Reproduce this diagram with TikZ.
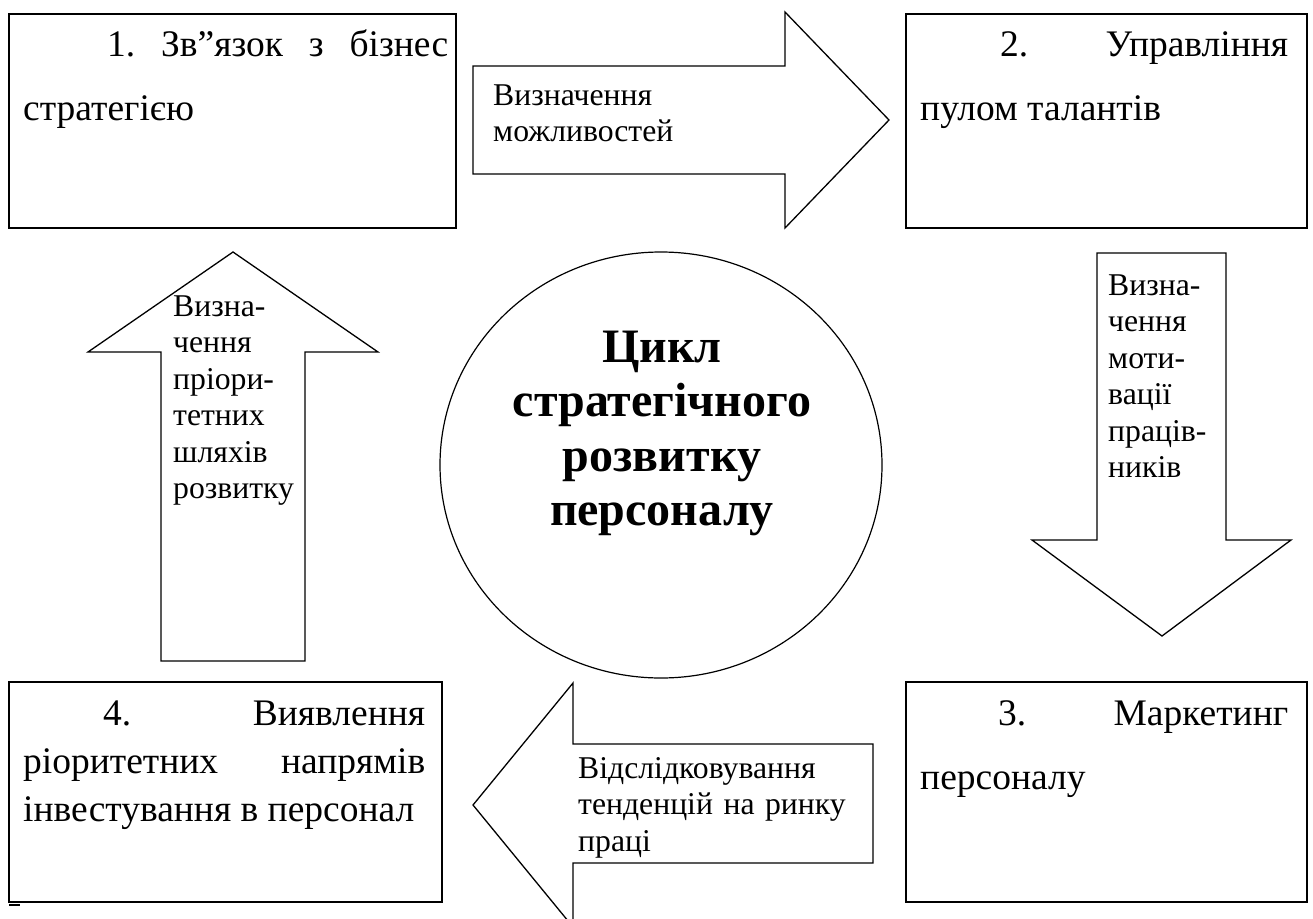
\documentclass[tikz,border=0pt]{standalone}
\usepackage{fontspec}
\setmainfont{Liberation Serif}
\usetikzlibrary{shapes.geometric}
\newcommand\bxf{\fontsize{37.5}{43}\selectfont}
\newcommand\arf{\fontsize{31.7}{36.5}\selectfont}
\newcommand\elf{\fontsize{48}{54.5}\selectfont\bfseries}
\tikzset{
  box/.style={draw, line width=2pt, inner sep=0pt},
  blk/.style={draw, line width=1.3pt, line join=miter},
  ln/.style={anchor=base west, inner sep=0pt, font=\bxf},
  arl/.style={anchor=base west, inner sep=0pt, font=\arf, align=left, text width=300pt},
}
\begin{document}
\begin{tikzpicture}[x=1pt,y=-1pt]
\useasboundingbox (0,0) rectangle (1313,918);
\clip (0,0) rectangle (1313,918);
\fill[white] (0,0) rectangle (1313,918);
% boxes
\node[box, minimum width=447pt, minimum height=214pt] (b1) at (232.5,121) {};
\node[box, minimum width=401pt, minimum height=214pt] (b2) at (1106.5,121) {};
\node[box, minimum width=401pt, minimum height=220pt] (b3) at (1106.5,792) {};
\node[box, minimum width=433pt, minimum height=220pt] (b4) at (225.5,792) {};
\draw[line width=1.6pt] (9,905) -- (20,905);
% box texts
\node[ln] (t1a) at (107,56) {\makebox[341pt]{1.\hfill Зв”язок\hfill з\hfill бізнес}};
\node[ln] (t1b) at (23,120) {стратегією};
\node[ln] (t2a) at (1000,56) {\makebox[288pt]{2.\hfill Управління}};
\node[ln] (t2b) at (920,120) {пулом талантів};
\node[ln] (t3a) at (998,725) {\makebox[290pt]{3.\hfill Маркетинг}};
\node[ln] (t3b) at (920,789) {персоналу};
\node[ln] (t4a) at (103,725) {\makebox[322pt]{4.\hfill Виявлення}};
\node[ln] (t4b) at (23,773) {\makebox[402pt]{ріоритетних\hfill напрямів}};
\node[ln] (t4c) at (23,821) {інвестування в персонал};
% block arrows
\draw[blk] (473,66) -- (785,66) -- (785,12) -- (889,120) -- (785,228) -- (785,174) -- (473,174) -- cycle;
\draw[blk] (233,252) -- (378,352) -- (305,352) -- (305,661) -- (161,661) -- (161,352) -- (88,352) -- cycle;
\draw[blk] (1097,253) -- (1226,253) -- (1226,540) -- (1291,540) -- (1162,636) -- (1032,540) -- (1097,540) -- cycle;
\draw[blk] (473,805) -- (573,683) -- (573,744) -- (873,744) -- (873,863) -- (573,863) -- (573,927) -- cycle;
% arrow labels
\node[arl] (ar) at (493,105) {Визначення\\можливостей};
\node[arl] (ad) at (1108,295) {Визна-\\чення\\моти-\\вації\\праців-\\ників};
\node[arl] (au) at (173,316) {Визна-\\чення\\пріори-\\тетних\\шляхів\\розвитку};
\node[arl] (al) at (578,778) {Відслідковування\\тенденцій на ринку\\праці};
% central ellipse
\node[draw, ellipse, line width=1.2pt, inner sep=0pt, minimum width=442pt, minimum height=426pt] (cyc) at (661,465) {};
\node[anchor=base, inner sep=0pt, font=\elf, align=center, text width=420pt] (cyct) at (662,362) {Цикл\\стратегічного\\розвитку\\персоналу};
\end{tikzpicture}
\end{document}
